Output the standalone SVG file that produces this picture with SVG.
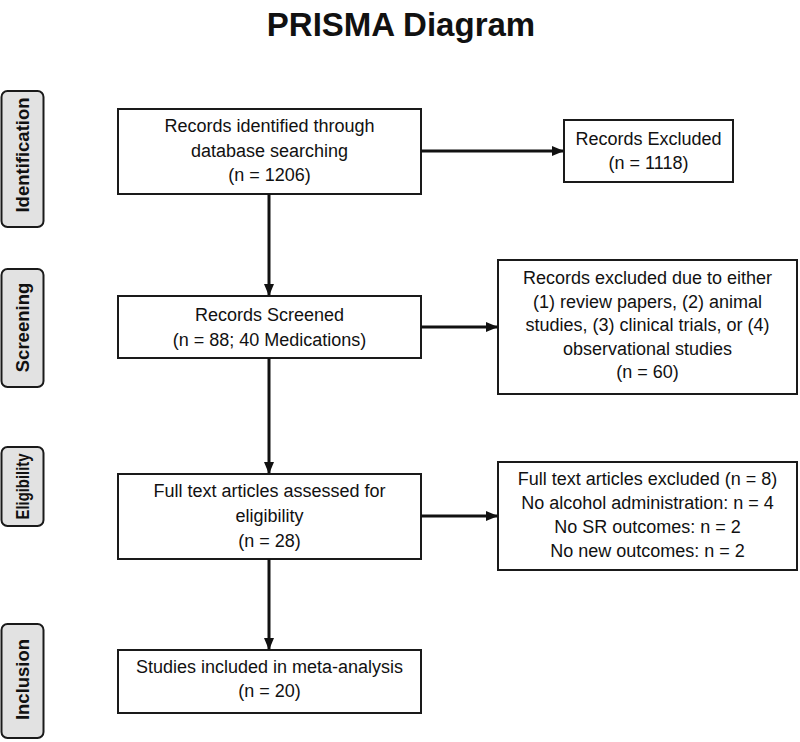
<svg xmlns="http://www.w3.org/2000/svg" width="800" height="742" viewBox="0 0 800 742">
<style>
.bg{fill:#ffffff}
.box{fill:#ffffff;stroke:#1a1a1a;stroke-width:2}
.lab{fill:#e2e2e2;stroke:#1a1a1a;stroke-width:2}
.t{font-family:"Liberation Sans",Arial,sans-serif;font-size:18px;fill:#111;text-anchor:middle}
.lt{font-family:"Liberation Sans",Arial,sans-serif;font-size:18.5px;font-weight:bold;fill:#111;text-anchor:middle}
.title{font-family:"Liberation Sans",Arial,sans-serif;font-size:33px;font-weight:bold;fill:#111;text-anchor:middle}
.c{stroke:#111;stroke-width:3;fill:none;marker-end:url(#ah)}
</style>
<defs>
<marker id="ah" markerUnits="userSpaceOnUse" markerWidth="12" markerHeight="12" viewBox="0 0 12 12" refX="11" refY="6" orient="auto">
<path d="M0,1 L12,6 L0,11 Z" fill="#111"/>
</marker>
</defs>
<rect class="bg" x="0" y="0" width="800" height="742"/>
<text class="title" x="401" y="36">PRISMA Diagram</text>

<g id="label-identification">
<rect class="lab" x="1.5" y="91" width="42" height="136" rx="6"/>
<text class="lt" transform="translate(29,155) rotate(-90)">Identification</text>
</g>
<g id="label-screening">
<rect class="lab" x="1.5" y="269" width="42" height="118" rx="6"/>
<text class="lt" transform="translate(29,327.5) rotate(-90)">Screening</text>
</g>
<g id="label-eligibility">
<rect class="lab" x="1.5" y="447" width="42" height="79" rx="6"/>
<text class="lt" transform="translate(29,486.5) rotate(-90)" textLength="66" lengthAdjust="spacingAndGlyphs">Eligibility</text>
</g>
<g id="label-inclusion">
<rect class="lab" x="1.5" y="624" width="42" height="114" rx="6"/>
<text class="lt" transform="translate(29,679.5) rotate(-90)">Inclusion</text>
</g>

<g id="n-identified">
<rect class="box" x="118" y="109" width="303" height="85"/>
<text class="t" x="269.5" y="132">Records identified through</text>
<text class="t" x="269.5" y="157">database searching</text>
<text class="t" x="269.5" y="181">(n = 1206)</text>
</g>
<g id="n-excluded1">
<rect class="box" x="564" y="120" width="169" height="62"/>
<text class="t" x="648.5" y="145">Records Excluded</text>
<text class="t" x="648.5" y="169">(n = 1118)</text>
</g>
<g id="n-screened">
<rect class="box" x="118" y="296" width="303" height="62"/>
<text class="t" x="269.5" y="320.5">Records Screened</text>
<text class="t" x="269.5" y="345.5">(n = 88; 40 Medications)</text>
</g>
<g id="n-excluded2">
<rect class="box" x="498" y="260" width="299" height="134"/>
<text class="t" x="647.5" y="284">Records excluded due to either</text>
<text class="t" x="647.5" y="307.5">(1) review papers, (2) animal</text>
<text class="t" x="647.5" y="331">studies, (3) clinical trials, or (4)</text>
<text class="t" x="647.5" y="354.5">observational studies</text>
<text class="t" x="647.5" y="378">(n = 60)</text>
</g>
<g id="n-fulltext">
<rect class="box" x="118" y="474" width="303" height="85"/>
<text class="t" x="269.5" y="497">Full text articles assessed for</text>
<text class="t" x="269.5" y="522">eligibility</text>
<text class="t" x="269.5" y="547">(n = 28)</text>
</g>
<g id="n-excluded3">
<rect class="box" x="498" y="462" width="299" height="108"/>
<text class="t" x="647.5" y="485">Full text articles excluded (n = 8)</text>
<text class="t" x="647.5" y="509">No alcohol administration: n = 4</text>
<text class="t" x="647.5" y="533">No SR outcomes: n = 2</text>
<text class="t" x="647.5" y="557">No new outcomes: n = 2</text>
</g>
<g id="n-included">
<rect class="box" x="118" y="650" width="303" height="63"/>
<text class="t" x="269.5" y="673">Studies included in meta-analysis</text>
<text class="t" x="269.5" y="697">(n = 20)</text>
</g>

<g id="connectors">
<line class="c" x1="421" y1="151" x2="563" y2="151"/>
<line class="c" x1="269" y1="194" x2="269" y2="295"/>
<line class="c" x1="421" y1="327" x2="497" y2="327"/>
<line class="c" x1="269" y1="358" x2="269" y2="473"/>
<line class="c" x1="421" y1="516" x2="497" y2="516"/>
<line class="c" x1="269" y1="559" x2="269" y2="649"/>
</g>
</svg>
